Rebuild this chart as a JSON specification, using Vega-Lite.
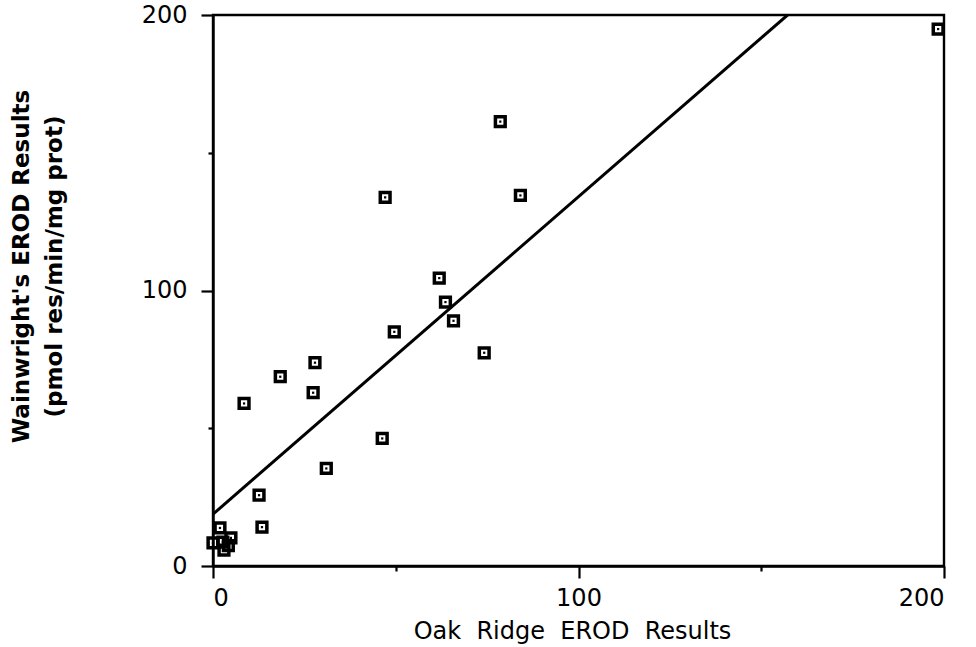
{
  "$schema": "https://vega.github.io/schema/vega-lite/v6.json",
  "autosize": "none",
  "width": 731,
  "height": 551,
  "padding": {"left": 213, "top": 15, "right": 32, "bottom": 81},
  "background": "white",
  "config": {
    "font": "DejaVu Sans",
    "view": {"stroke": "black", "strokeWidth": 2.4},
    "axis": {
      "domainColor": "black",
      "domainWidth": 2.4,
      "tickColor": "black",
      "tickWidth": 2.2,
      "grid": false,
      "labelColor": "black",
      "labelFont": "DejaVu Sans",
      "labelFontSize": 24,
      "titleColor": "black",
      "titleFont": "DejaVu Sans"
    }
  },
  "datasets": {
    "samples": [
      {"oak_ridge": 198.4, "wainwright": 194.9},
      {"oak_ridge": 78.6, "wainwright": 161.3},
      {"oak_ridge": 47.1, "wainwright": 133.8},
      {"oak_ridge": 84.1, "wainwright": 134.5},
      {"oak_ridge": 61.9, "wainwright": 104.5},
      {"oak_ridge": 63.6, "wainwright": 95.8},
      {"oak_ridge": 65.8, "wainwright": 89.0},
      {"oak_ridge": 49.6, "wainwright": 85.0},
      {"oak_ridge": 74.2, "wainwright": 77.4},
      {"oak_ridge": 27.9, "wainwright": 73.8},
      {"oak_ridge": 27.4, "wainwright": 62.9},
      {"oak_ridge": 18.4, "wainwright": 68.7},
      {"oak_ridge": 8.5, "wainwright": 59.0},
      {"oak_ridge": 46.3, "wainwright": 46.3},
      {"oak_ridge": 31.0, "wainwright": 35.4},
      {"oak_ridge": 12.6, "wainwright": 25.7},
      {"oak_ridge": 13.4, "wainwright": 14.1},
      {"oak_ridge": 1.9, "wainwright": 13.8},
      {"oak_ridge": 4.9, "wainwright": 10.2},
      {"oak_ridge": 2.7, "wainwright": 8.7},
      {"oak_ridge": 0.0, "wainwright": 8.4},
      {"oak_ridge": 3.0, "wainwright": 5.8},
      {"oak_ridge": 4.2, "wainwright": 7.4}
    ],
    "fit": [
      {"oak_ridge": 0, "wainwright": 18.8},
      {"oak_ridge": 157.2, "wainwright": 200}
    ]
  },
  "encoding": {
    "x": {
      "field": "oak_ridge",
      "type": "quantitative",
      "scale": {"domain": [0, 200], "nice": false},
      "axis": {
        "values": [0, 50, 100, 150, 200],
        "labelExpr": "datum.value % 100 == 0 ? datum.label : ''",
        "tickSize": {"condition": {"test": "datum.value % 100 == 0", "value": 12}, "value": 5},
        "labelPadding": 8,
        "title": "Oak\u00a0 Ridge\u00a0 EROD\u00a0 Results",
        "titleFontSize": 24,
        "titleFontWeight": "normal",
        "titleX": 359,
        "titleY": 72,
        "titleBaseline": "alphabetic"
      }
    },
    "y": {
      "field": "wainwright",
      "type": "quantitative",
      "scale": {"domain": [0, 200], "nice": false},
      "axis": {
        "values": [0, 50, 100, 150, 200],
        "labelExpr": "datum.value % 100 == 0 ? datum.label : ''",
        "tickSize": {"condition": {"test": "datum.value % 100 == 0", "value": 12}, "value": 5},
        "labelPadding": 14,
        "title": ["Wainwright's EROD Results", "(pmol res/min/mg prot)"],
        "titleFontSize": 23,
        "titleFontWeight": "bold",
        "titleAngle": -90,
        "titleBaseline": "alphabetic",
        "titleLineHeight": 33,
        "titleX": -185,
        "titleY": 251
      }
    }
  },
  "layer": [
    {
      "data": {"name": "fit"},
      "mark": {"type": "line", "color": "black", "strokeWidth": 3, "clip": true}
    },
    {
      "data": {"name": "samples"},
      "mark": {"type": "point", "shape": "square", "filled": false, "size": 95, "stroke": "black", "strokeWidth": 3.5, "opacity": 1}
    },
    {
      "data": {"name": "samples"},
      "mark": {"type": "point", "shape": "square", "filled": true, "size": 5, "color": "black", "opacity": 1}
    }
  ]
}
